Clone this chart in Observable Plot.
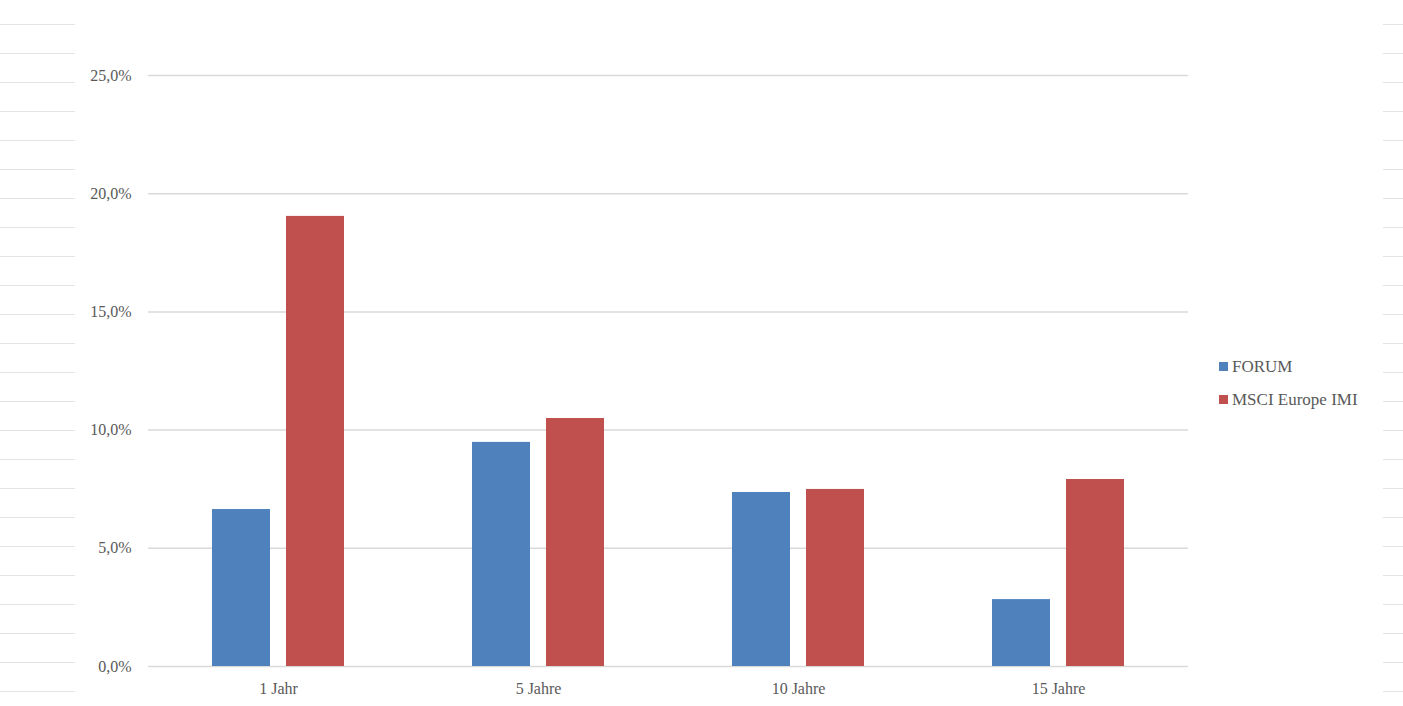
<!DOCTYPE html>
<html>
<head>
<meta charset="utf-8">
<script src="https://cdn.jsdelivr.net/npm/d3@7"></script>
<script src="https://cdn.jsdelivr.net/npm/@observablehq/plot@0.6"></script>
<style>
  body { margin: 0; background: #fff; font-family: "Times New Roman", "Liberation Serif", "DejaVu Serif", serif; }
  #wrap { position: relative; width: 1403px; height: 706px; overflow: hidden; }
  #wrap svg, #wrap svg text { font-family: "Times New Roman", "Liberation Serif", "DejaVu Serif", serif !important; }
  /* spreadsheet cell lines peeking out at the sides */
  .cells { position: absolute; top: 0; height: 706px;
    background: repeating-linear-gradient(to bottom, transparent 0, transparent 23px, #e3e3e3 23px, #e3e3e3 24px, transparent 24px, transparent 29px);
    background-position: 0 1px; }
  #legend { position: absolute; left: 1219px; top: 350px; color: #595959; font-size: 17px; }
  #legend div { height: 33px; display: flex; align-items: center; }
  #legend span.sw { display: inline-block; width: 9px; height: 9px; margin-right: 4px; }
</style>
</head>
<body>
<div id="wrap">
  <div class="cells" style="left:0;width:75px"></div>
  <div class="cells" style="left:1383px;width:20px"></div>
</div>
<script>
// periods and series (annualised returns, %)
let periods = ["1 Jahr", "5 Jahre", "10 Jahre", "15 Jahre"];
let series = ["FORUM", "MSCI Europe IMI"];
let forum = [6.64, 9.48, 7.36, 2.83];
let msci = [19.04, 10.49, 7.49, 7.91];
let colors = ["#4f81bd", "#c0504d"];
let yTicks = [0, 5, 10, 15, 20, 25];

// long table for the bars
let data = [];
for (let i = 0; i < periods.length; i++) {
  data.push({ period: periods[i], series: series[0], value: forum[i] });
  data.push({ period: periods[i], series: series[1], value: msci[i] });
}

const fmt = d => d.toFixed(1).replace(".", ",") + "%";

const chart = Plot.plot({
  width: 1403,
  height: 706,
  marginLeft: 148,
  marginRight: 215,
  marginTop: 75,
  marginBottom: 40,
  style: { fontSize: "16px", color: "#595959", background: "transparent" },
  fx: { domain: periods, padding: 0 },
  x: { domain: series, paddingInner: 0.21, paddingOuter: 0.855, axis: null },
  y: { domain: [0, 25] },
  color: { domain: series, range: colors },
  marks: [
    Plot.gridY(yTicks, { stroke: "#d9d9d9", strokeOpacity: 1, strokeWidth: 1.5 }),
    Plot.barY(data, { fx: "period", x: "series", y: "value", fill: "series" }),
    Plot.axisY({ ticks: yTicks, tickSize: 0, tickPadding: 17, tickFormat: fmt, label: null }),
    Plot.axisFx({ anchor: "bottom", tickSize: 0, tickPadding: 16, label: null })
  ]
});
chart.style.position = "absolute";
chart.style.left = "0";
chart.style.top = "0";
document.getElementById("wrap").appendChild(chart);

// legend on the right
const legend = document.createElement("div");
legend.id = "legend";
series.forEach((s, i) => {
  const row = document.createElement("div");
  row.innerHTML = `<span class="sw" style="background:${colors[i]}"></span>${s}`;
  legend.appendChild(row);
});
document.getElementById("wrap").appendChild(legend);
</script>
</body>
</html>
